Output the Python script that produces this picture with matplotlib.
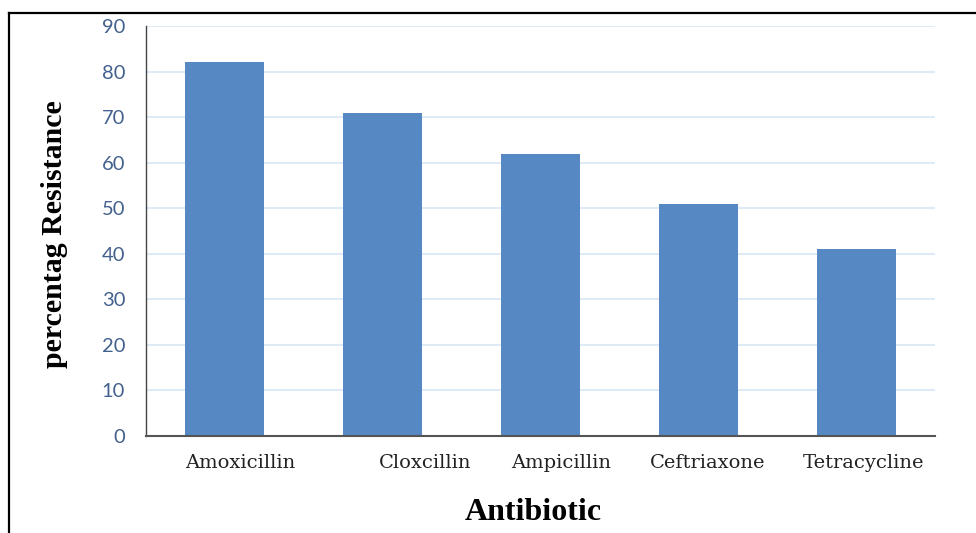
import matplotlib
matplotlib.use("Agg")
import matplotlib.pyplot as plt
from matplotlib.lines import Line2D
import matplotlib.transforms as mtransforms

categories = ["Amoxicillin", "Cloxcillin", "Ampicillin", "Ceftriaxone", "Tetracycline"]
resistance = [82, 71, 62, 51, 41]
label_offsets = [0.10, 0.27, 0.13, 0.06, 0.05]
yticks = [0, 10, 20, 30, 40, 50, 60, 70, 80, 90]

fig = plt.figure(figsize=(9.76, 5.33), dpi=100)
ax = fig.add_axes([146/976, 97/533, 789/976, 410/533])

x = list(range(len(categories)))
ax.bar(x, resistance, width=0.5, color="#5689C3", zorder=3)
ax.set_xlim(-0.5, len(categories) - 0.5)
ax.set_ylim(0, 90)
ax.set_yticks(yticks)
ax.set_yticklabels([str(v) for v in yticks], fontfamily="Lato", fontsize=14.5, color="#43618E")
ax.tick_params(axis="y", length=0, pad=15)
ax.set_xticks([])
ax.grid(axis="y", color="#D8E6F5", linewidth=1.2, zorder=0)
for s in ["top", "right"]:
    ax.spines[s].set_visible(False)
ax.spines["left"].set_color("#444444")
ax.spines["left"].set_linewidth(1.0)
ax.spines["bottom"].set_color("#555555")
ax.spines["bottom"].set_linewidth(1.5)
ax.spines["left"].set_zorder(4)
ax.spines["bottom"].set_zorder(4)

trans = mtransforms.blended_transform_factory(ax.transData, ax.transAxes)
for i, (lab, off) in enumerate(zip(categories, label_offsets)):
    ax.text(i + off, -0.043, lab, transform=trans, ha="center", va="top",
            fontfamily="DejaVu Serif", fontsize=14, color="#222222")

fig.text(533/976, 1 - 513/533, "Antibiotic", ha="center", va="center",
         fontfamily="Liberation Serif", fontweight="bold", fontsize=23, color="black")
fig.text(55/976, 1 - 234/533, "percentag Resistance", ha="center", va="center",
         rotation=90, fontfamily="Liberation Serif", fontweight="bold", fontsize=21.5, color="black")

# outer frame (top and left edges visible)
fig.add_artist(Line2D([8.5/976, 1.0], [1 - 12.5/533, 1 - 12.5/533], transform=fig.transFigure,
                      color="black", linewidth=1.6))
fig.add_artist(Line2D([8.5/976, 8.5/976], [0, 1 - 12.5/533], transform=fig.transFigure,
                      color="black", linewidth=1.6))

fig.savefig("out.png", dpi=100)
